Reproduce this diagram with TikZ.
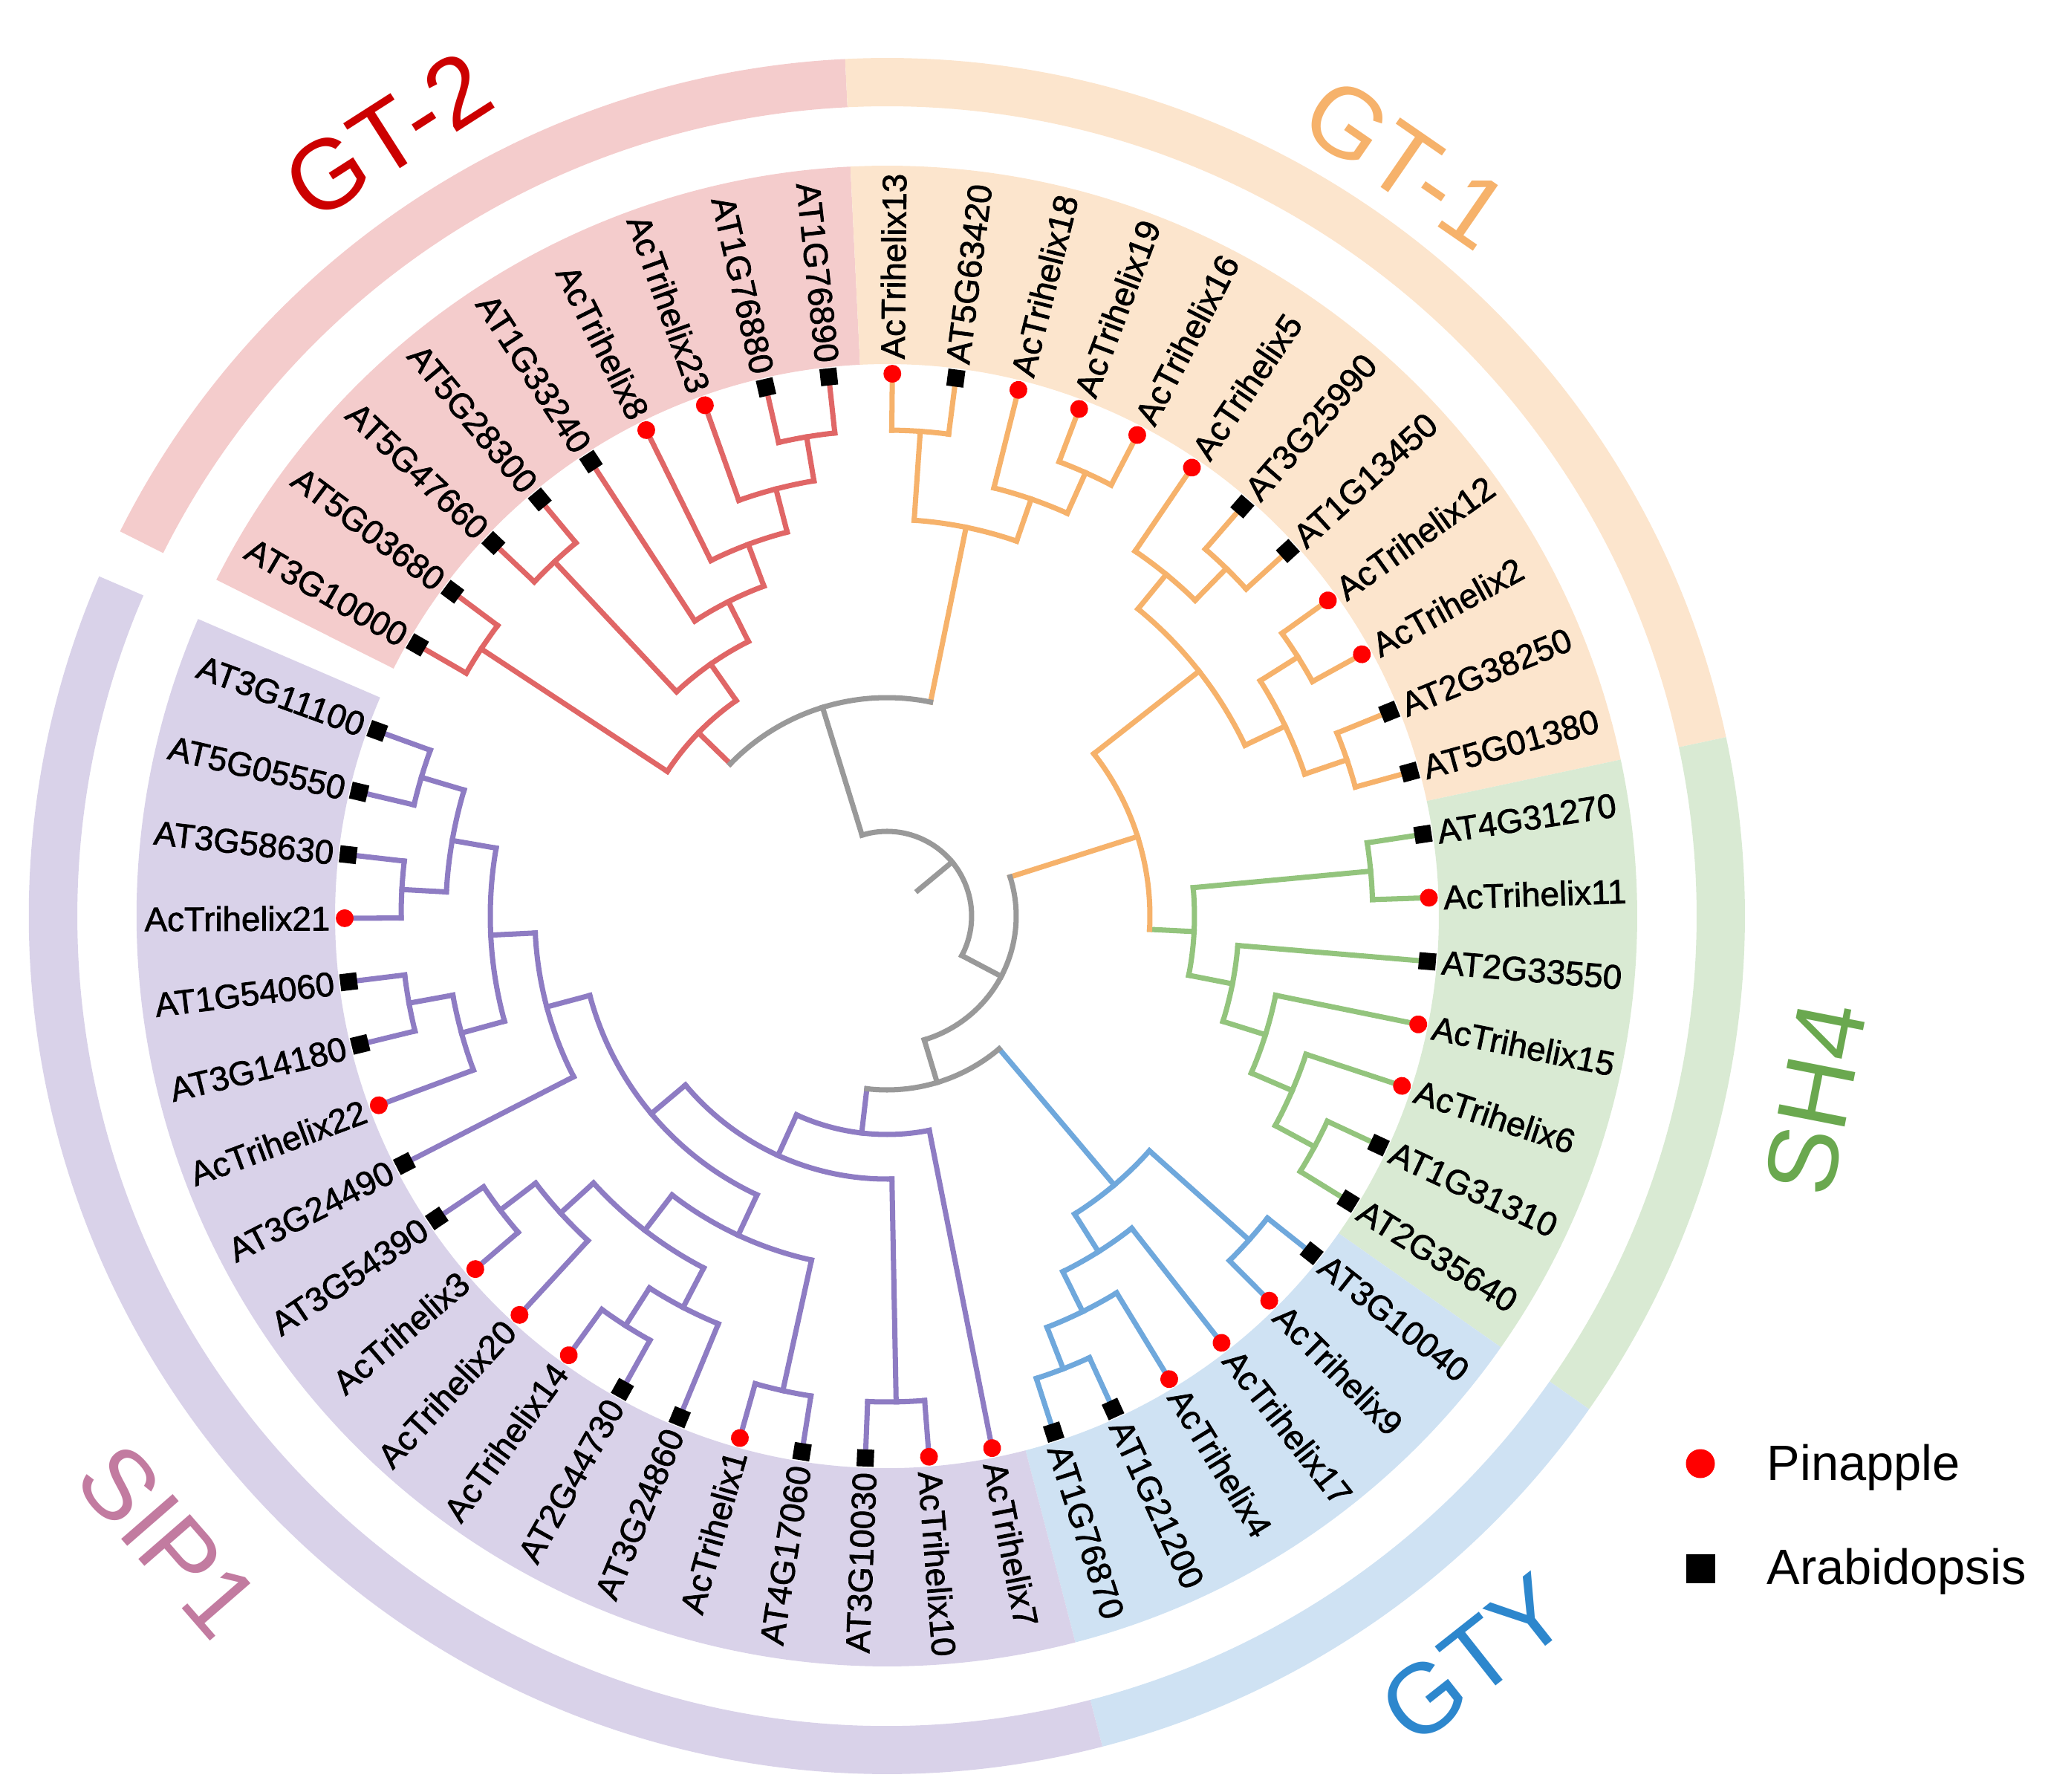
\documentclass[tikz,border=0pt]{standalone}
\usepackage{fontspec}
\setmainfont{Liberation Sans}
\newfontfamily\leaffont[FakeBold=1.6]{Liberation Sans}
\usepackage{tikz}

\definecolor{redBr}{RGB}{224,102,102}
\definecolor{orangeBr}{RGB}{246,178,107}
\definecolor{greenBr}{RGB}{147,196,125}
\definecolor{blueBr}{RGB}{111,168,220}
\definecolor{purpleBr}{RGB}{142,124,195}
\definecolor{grayBr}{RGB}{153,153,153}
\definecolor{redSh}{RGB}{244,204,204}
\definecolor{orangeSh}{RGB}{252,229,205}
\definecolor{greenSh}{RGB}{217,234,211}
\definecolor{blueSh}{RGB}{207,226,243}
\definecolor{purpleSh}{RGB}{217,210,233}
\definecolor{redTx}{RGB}{204,0,0}
\definecolor{orangeTx}{RGB}{246,178,107}
\definecolor{greenTx}{RGB}{106,168,79}
\definecolor{blueTx}{RGB}{45,135,205}
\definecolor{purpleTx}{RGB}{194,123,160}

\begin{document}
\begin{tikzpicture}[
    branch/.style={line width=2.0pt, line cap=rect},
    pinemark/.style={circle, fill=red, inner sep=0pt, minimum size=0.24cm},
    arabmark/.style={rectangle, fill=black, inner sep=0pt, minimum size=0.23cm},
    leaflabel/.style={inner sep=0pt, font=\leaffont\fontsize{13}{15}\selectfont},
    grouplabel/.style={inner sep=0pt, font=\fontsize{38}{44}\selectfont},
    legendlabel/.style={inner sep=0pt, font=\fontsize{19}{22}\selectfont},
]
\useasboundingbox (-11.94,-11.79) rectangle (15.67,12.33);

    % leaf slot -> angle, node depth -> radius
    \def\ang#1{150-6.73*(#1)}
    \def\rad#1{7.14-0.6*(#1)}
    \def\lr{7.30}
    \def\lt{7.49}

    \def\sector#1#2#3#4#5{%
        \fill[#1] ({\ang{#2}}:#4) arc[start angle={\ang{#2}}, end angle={\ang{#3}}, radius=#4]
            -- ({\ang{#3}}:#5) arc[start angle={\ang{#3}}, end angle={\ang{#2}}, radius=#5] -- cycle;}

    % colour, slot, depth, parent depth, first child slot, last child slot
    \def\cladearc#1#2#3#4#5#6{%
        \draw[branch,#1] ({\ang{#2}}:{\rad{#4}}) -- ({\ang{#2}}:{\rad{#3}});
        \draw[branch,#1] ({\ang{#5}}:{\rad{#3}}) arc[start angle={\ang{#5}}, end angle={\ang{#6}}, radius={\rad{#3}}];}

    \def\leaves#1#2{%
        \foreach \i/\name/\mk/\hp in {#2}{
            \pgfmathsetmacro\a{\ang{\i}}
            \pgfmathsetmacro\b{\a+180}
            \pgfmathtruncatemacro\flip{cos(\a)<0}
            \draw[branch,#1] (\a:{\rad{\hp}}) -- (\a:\lr);
            \node[\mk, rotate=\a] (m\i) at (\a:\lr) {};
            \ifnum\flip=1
                \node[leaflabel, anchor=east, rotate=\b] (l\i) at (\a:\lt) {\name};
            \else
                \node[leaflabel, anchor=west, rotate=\a] (l\i) at (\a:\lt) {\name};
            \fi
        }}

    % shaded sectors and outer ring
    \sector{redSh}{-0.5}{8.5}{7.43}{10.10}
    \sector{orangeSh}{8.5}{20.5}{7.43}{10.10}
    \sector{greenSh}{20.5}{27.5}{7.43}{10.10}
    \sector{blueSh}{27.5}{33.5}{7.43}{10.10}
    \sector{purpleSh}{33.5}{52.5}{7.43}{10.10}
    \sector{redSh}{-0.5}{8.5}{10.90}{11.55}
    \sector{orangeSh}{8.5}{20.5}{10.90}{11.55}
    \sector{greenSh}{20.5}{27.5}{10.90}{11.55}
    \sector{blueSh}{27.5}{33.5}{10.90}{11.55}
    \sector{purpleSh}{33.5}{52.5}{10.90}{11.55}

    % GT-2
    \cladearc{redBr}{7.5}{1}{2}{7}{8}
    \cladearc{redBr}{6.75}{2}{3}{6}{7.5}
    \cladearc{redBr}{5.875}{3}{4}{5}{6.75}
    \cladearc{redBr}{4.9375}{4}{5}{4}{5.875}
    \cladearc{redBr}{2.5}{1}{5}{2}{3}
    \cladearc{redBr}{3.71875}{5}{6}{2.5}{4.9375}
    \cladearc{redBr}{0.5}{1}{6}{0}{1}
    \cladearc{redBr}{2.109375}{6}{7}{0.5}{3.71875}
    % GT-1
    \cladearc{orangeBr}{9.5}{1}{3}{9}{10}
    \cladearc{orangeBr}{12.5}{1}{2}{12}{13}
    \cladearc{orangeBr}{11.75}{2}{3}{11}{12.5}
    \cladearc{orangeBr}{10.625}{3}{7}{9.5}{11.75}
    \cladearc{orangeBr}{15.5}{1}{2}{15}{16}
    \cladearc{orangeBr}{14.75}{2}{3}{14}{15.5}
    \cladearc{orangeBr}{17.5}{1}{2}{17}{18}
    \cladearc{orangeBr}{19.5}{1}{2}{19}{20}
    \cladearc{orangeBr}{18.5}{2}{3}{17.5}{19.5}
    \cladearc{orangeBr}{16.625}{3}{6}{14.75}{18.5}
    % SH4
    \cladearc{greenBr}{21.5}{1}{5}{21}{22}
    \cladearc{greenBr}{26.5}{1}{2}{26}{27}
    \cladearc{greenBr}{25.75}{2}{3}{25}{26.5}
    \cladearc{greenBr}{24.875}{3}{4}{24}{25.75}
    \cladearc{greenBr}{23.9375}{4}{5}{23}{24.875}
    \cladearc{greenBr}{22.71875}{5}{6}{21.5}{23.9375}
    \cladearc{orangeBr}{19.671875}{6}{9}{16.625}{22.71875}
    % GTY
    \cladearc{blueBr}{28.5}{1}{4}{28}{29}
    \cladearc{blueBr}{32.5}{1}{2}{32}{33}
    \cladearc{blueBr}{31.75}{2}{3}{31}{32.5}
    \cladearc{blueBr}{30.875}{3}{4}{30}{31.75}
    \cladearc{blueBr}{29.6875}{4}{8}{28.5}{30.875}
    % SIP1
    \cladearc{purpleBr}{35.5}{1}{6}{35}{36}
    \cladearc{purpleBr}{37.5}{1}{4}{37}{38}
    \cladearc{purpleBr}{40.5}{1}{2}{40}{41}
    \cladearc{purpleBr}{39.75}{2}{3}{39}{40.5}
    \cladearc{purpleBr}{43.5}{1}{2}{43}{44}
    \cladearc{purpleBr}{42.75}{2}{3}{42}{43.5}
    \cladearc{purpleBr}{41.25}{3}{4}{39.75}{42.75}
    \cladearc{purpleBr}{39.375}{4}{5}{37.5}{41.25}
    \cladearc{purpleBr}{47.5}{1}{2}{47}{48}
    \cladearc{purpleBr}{46.75}{2}{3}{46}{47.5}
    \cladearc{purpleBr}{49.5}{1}{2}{49}{50}
    \cladearc{purpleBr}{51.5}{1}{2}{51}{52}
    \cladearc{purpleBr}{50.5}{2}{3}{49.5}{51.5}
    \cladearc{purpleBr}{48.625}{3}{4}{46.75}{50.5}
    \cladearc{purpleBr}{46.8125}{4}{5}{45}{48.625}
    \cladearc{purpleBr}{43.09375}{5}{6}{39.375}{46.8125}
    \cladearc{purpleBr}{39.296875}{6}{7}{35.5}{43.09375}
    \cladearc{purpleBr}{36.6484375}{7}{8}{34}{39.296875}
    % backbone
    \cladearc{grayBr}{6.3671875}{7}{10}{2.109375}{10.625}
    \cladearc{grayBr}{33.16796875}{8}{9}{29.6875}{36.6484375}
    \cladearc{grayBr}{26.419921875}{9}{10}{19.671875}{33.16796875}
    \cladearc{grayBr}{16.3935546875}{10}{11}{6.3671875}{26.419921875}

    % leaves: slot/name/marker/parent depth
    \leaves{redBr}{0/AT3G10000/arabmark/1, 1/AT5G03680/arabmark/1, 2/AT5G47660/arabmark/1,
        3/AT5G28300/arabmark/1, 4/AT1G33240/arabmark/4, 5/AcTrihelix8/pinemark/3,
        6/AcTrihelix23/pinemark/2, 7/AT1G76880/arabmark/1, 8/AT1G76890/arabmark/1}
    \leaves{orangeBr}{9/AcTrihelix13/pinemark/1, 10/AT5G63420/arabmark/1, 11/AcTrihelix18/pinemark/2,
        12/AcTrihelix19/pinemark/1, 13/AcTrihelix16/pinemark/1, 14/AcTrihelix5/pinemark/2,
        15/AT3G25990/arabmark/1, 16/AT1G13450/arabmark/1, 17/AcTrihelix12/pinemark/1,
        18/AcTrihelix2/pinemark/1, 19/AT2G38250/arabmark/1, 20/AT5G01380/arabmark/1}
    \leaves{greenBr}{21/AT4G31270/arabmark/1, 22/AcTrihelix11/pinemark/1, 23/AT2G33550/arabmark/4,
        24/AcTrihelix15/pinemark/3, 25/AcTrihelix6/pinemark/2, 26/AT1G31310/arabmark/1,
        27/AT2G35640/arabmark/1}
    \leaves{blueBr}{28/AT3G10040/arabmark/1, 29/AcTrihelix9/pinemark/1, 30/AcTrihelix17/pinemark/3,
        31/AcTrihelix4/pinemark/2, 32/AT1G21200/arabmark/1, 33/AT1G76870/arabmark/1}
    \leaves{purpleBr}{34/AcTrihelix7/pinemark/7, 35/AcTrihelix10/pinemark/1, 36/AT3G10030/arabmark/1,
        37/AT4G17060/arabmark/1, 38/AcTrihelix1/pinemark/1, 39/AT3G24860/arabmark/2,
        40/AT2G44730/arabmark/1, 41/AcTrihelix14/pinemark/1, 42/AcTrihelix20/pinemark/2,
        43/AcTrihelix3/pinemark/1, 44/AT3G54390/arabmark/1, 45/AT3G24490/arabmark/4,
        46/AcTrihelix22/pinemark/2, 47/AT3G14180/arabmark/1, 48/AT1G54060/arabmark/1,
        49/AcTrihelix21/pinemark/1, 50/AT3G58630/arabmark/1, 51/AT5G05550/arabmark/1,
        52/AT3G11100/arabmark/1}

    % group names
    \node[grouplabel, text=redTx, rotate=32.6] (gt2) at (122.6:12.47) {GT-2};
    \node[grouplabel, text=orangeTx, rotate=-34.6] (gt1) at (55.4:12.31) {GT-1};
    \node[grouplabel, text=greenTx, rotate=78.9] (sh4) at (-11.1:12.74) {SH4};
    \node[grouplabel, text=blueTx, rotate=38.3] (gty) at (-51.7:12.75) {GTY};
    \node[grouplabel, text=purpleTx, rotate=-49.0] (sip1) at (-139.0:12.82) {SIP1};

    % legend
    \node[pinemark, minimum size=0.39cm] (legpine) at (10.95,-7.37) {};
    \node[legendlabel, anchor=base west] (legpinetx) at (11.84,-7.59) {Pinapple};
    \node[arabmark, minimum size=0.39cm] (legarab) at (10.95,-8.78) {};
    \node[legendlabel, anchor=base west] (legarabtx) at (11.84,-8.99) {Arabidopsis};
\end{tikzpicture}
\end{document}
